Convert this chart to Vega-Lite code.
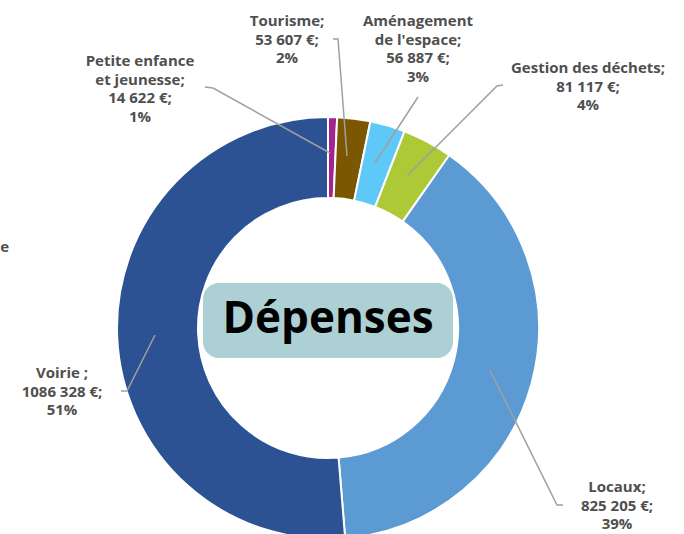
{
  "$schema": "https://vega.github.io/schema/vega-lite/v6.json",
  "width": 684,
  "height": 534,
  "autosize": "none",
  "padding": 0,
  "background": "white",
  "config": {"view": {"stroke": null}},
  "datasets": {
    "depenses": [
      {"poste": "Petite enfance et jeunesse", "montant": 14622, "ordre": 1},
      {"poste": "Tourisme", "montant": 53607, "ordre": 2},
      {"poste": "Aménagement de l'espace", "montant": 56887, "ordre": 3},
      {"poste": "Gestion des déchets", "montant": 81117, "ordre": 4},
      {"poste": "Locaux", "montant": 825205, "ordre": 5},
      {"poste": "Voirie", "montant": 1086328, "ordre": 6}
    ],
    "etiquettes": [
      {"poste": "Petite enfance et jeunesse", "texte": "Petite enfance\net jeunesse;\n14 622 €;\n1%", "lx": 140, "ly": 61},
      {"poste": "Tourisme", "texte": "Tourisme;\n53 607 €;\n2%", "lx": 287, "ly": 21},
      {"poste": "Aménagement de l'espace", "texte": "Aménagement\nde l'espace;\n56 887 €;\n3%", "lx": 418, "ly": 21},
      {"poste": "Gestion des déchets", "texte": "Gestion des déchets;\n81 117 €;\n4%", "lx": 588, "ly": 68},
      {"poste": "Voirie", "texte": "Voirie ;\n1086 328 €;\n51%", "lx": 62, "ly": 373},
      {"poste": "Locaux", "texte": "Locaux;\n825 205 €;\n39%", "lx": 617, "ly": 487}
    ],
    "reperes": [
      {"poste": "Petite enfance et jeunesse", "p": 1, "lx": 205, "ly": 87},
      {"poste": "Petite enfance et jeunesse", "p": 2, "lx": 213, "ly": 88},
      {"poste": "Petite enfance et jeunesse", "p": 3, "lx": 330, "ly": 153},
      {"poste": "Tourisme", "p": 1, "lx": 333, "ly": 39},
      {"poste": "Tourisme", "p": 2, "lx": 338, "ly": 39},
      {"poste": "Tourisme", "p": 3, "lx": 347, "ly": 156},
      {"poste": "Aménagement de l'espace", "p": 1, "lx": 418, "ly": 97},
      {"poste": "Aménagement de l'espace", "p": 2, "lx": 375, "ly": 163},
      {"poste": "Gestion des déchets", "p": 1, "lx": 503, "ly": 85},
      {"poste": "Gestion des déchets", "p": 2, "lx": 497, "ly": 86},
      {"poste": "Gestion des déchets", "p": 3, "lx": 408, "ly": 175},
      {"poste": "Voirie", "p": 1, "lx": 121, "ly": 391},
      {"poste": "Voirie", "p": 2, "lx": 127, "ly": 391},
      {"poste": "Voirie", "p": 3, "lx": 155, "ly": 335},
      {"poste": "Locaux", "p": 1, "lx": 563, "ly": 505},
      {"poste": "Locaux", "p": 2, "lx": 557, "ly": 505},
      {"poste": "Locaux", "p": 3, "lx": 490, "ly": 370}
    ],
    "titre": [
      {"texte": "Dépenses", "x0": 203, "x1": 453, "y0": 283, "y1": 358, "xc": 328, "yc": 320}
    ],
    "coupe": [
      {"texte": "e", "lx": 9, "ly": 247}
    ]
  },
  "layer": [
    {
      "data": {"name": "depenses"},
      "mark": {"type": "arc", "innerRadius": 130, "outerRadius": 211, "stroke": "white", "strokeWidth": 2},
      "encoding": {
        "theta": {"field": "montant", "type": "quantitative", "stack": true},
        "order": {"field": "ordre", "type": "quantitative"},
        "x": {"datum": 328, "type": "quantitative", "scale": {"domain": [0, 684], "nice": false, "zero": false}, "axis": null},
        "y": {"datum": 328, "type": "quantitative", "scale": {"domain": [534, 0], "nice": false, "zero": false}, "axis": null},
        "color": {
          "field": "poste", "type": "nominal", "legend": null,
          "scale": {
            "domain": ["Petite enfance et jeunesse", "Tourisme", "Aménagement de l'espace", "Gestion des déchets", "Locaux", "Voirie"],
            "range": ["#a3238f", "#7a5700", "#5ec8f7", "#adc935", "#5b9ad2", "#2c5294"]
          }
        }
      }
    },
    {
      "data": {"name": "reperes"},
      "mark": {"type": "line", "color": "#a0a0a0", "strokeWidth": 1.5},
      "encoding": {
        "x": {"field": "lx", "type": "quantitative"},
        "y": {"field": "ly", "type": "quantitative"},
        "detail": {"field": "poste"},
        "order": {"field": "p", "type": "quantitative"}
      }
    },
    {
      "data": {"name": "etiquettes"},
      "mark": {"type": "text", "lineBreak": "\n", "lineHeight": 18.5, "font": "Open Sans", "fontWeight": "bold", "fontSize": 15, "color": "#4f4f4f", "align": "center", "baseline": "middle"},
      "encoding": {
        "x": {"field": "lx", "type": "quantitative"},
        "y": {"field": "ly", "type": "quantitative"},
        "text": {"field": "texte"}
      }
    },
    {
      "data": {"name": "coupe"},
      "mark": {"type": "text", "font": "Open Sans", "fontWeight": "bold", "fontSize": 15, "color": "#4f4f4f", "align": "right", "baseline": "middle"},
      "encoding": {
        "x": {"field": "lx", "type": "quantitative"},
        "y": {"field": "ly", "type": "quantitative"},
        "text": {"field": "texte"}
      }
    },
    {
      "data": {"name": "titre"},
      "mark": {"type": "rect", "fill": "#acd0d4", "cornerRadius": 16},
      "encoding": {
        "x": {"field": "x0", "type": "quantitative"},
        "x2": {"field": "x1"},
        "y": {"field": "y0", "type": "quantitative"},
        "y2": {"field": "y1"}
      }
    },
    {
      "data": {"name": "titre"},
      "mark": {"type": "text", "font": "Open Sans", "fontWeight": "bold", "fontSize": 44, "color": "black", "align": "center", "baseline": "middle"},
      "encoding": {
        "x": {"field": "xc", "type": "quantitative"},
        "y": {"field": "yc", "type": "quantitative"},
        "text": {"field": "texte"}
      }
    }
  ]
}
